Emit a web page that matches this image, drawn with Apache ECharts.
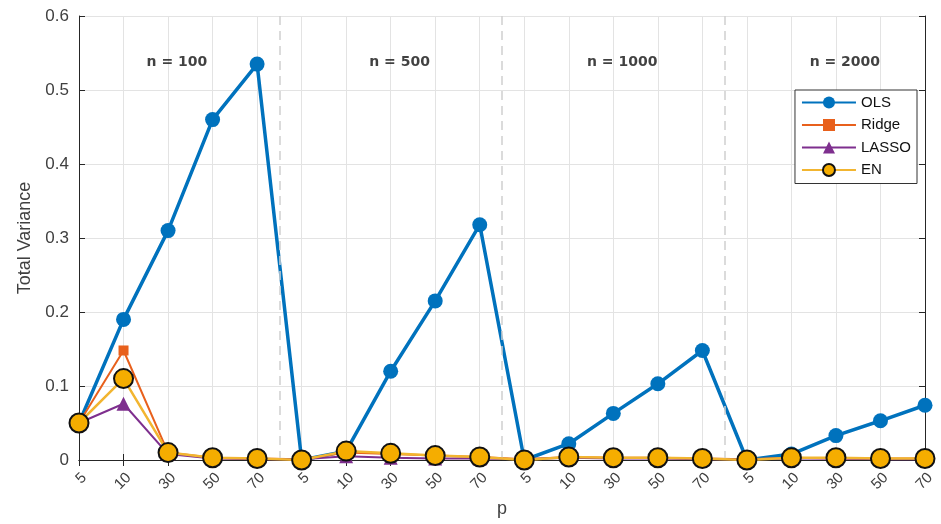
<!DOCTYPE html>
<html>
<head>
<meta charset="utf-8">
<script src="https://cdn.jsdelivr.net/npm/echarts@6/dist/echarts.min.js"></script>
<style>html,body{margin:0;padding:0;background:#fff;}#c{width:941px;height:524px;}</style>
</head>
<body>
<div id="c"></div>
<script>
var pLabels = ['5','10','30','50','70','5','10','30','50','70','5','10','30','50','70','5','10','30','50','70'];
var groupNames = ['n = 100','n = 500','n = 1000','n = 2000'];
var olsValues   = [0.050,0.190,0.310,0.460,0.535, 0.000,0.012,0.120,0.215,0.318, 0.000,0.022,0.063,0.103,0.148, 0.000,0.008,0.033,0.053,0.074];
var ridgeValues = [0.050,0.148,0.010,0.003,0.002, 0.001,0.010,0.008,0.006,0.004, 0.001,0.004,0.003,0.003,0.002, 0.001,0.003,0.002,0.002,0.002];
var lassoValues = [0.050,0.076,0.008,0.002,0.001, 0.001,0.005,0.003,0.002,0.002, 0.001,0.003,0.002,0.002,0.001, 0.001,0.002,0.002,0.001,0.001];
var enValues    = [0.050,0.110,0.010,0.003,0.002, 0.000,0.012,0.009,0.006,0.004, 0.000,0.004,0.003,0.003,0.002, 0.000,0.003,0.003,0.002,0.002];

var groupSize = 5;
var separators = [];
for (var g = 1; g < groupNames.length; g++) separators.push({xAxis: g * groupSize - 0.5});
var groupLabelData = groupNames.map(function(n, i){
  return {name: n, value: [i * groupSize + (groupSize - 1) / 2 + 0.2, 0.538]};
});

var chart = echarts.init(document.getElementById('c'));
var axisColor = '#262626';
var gridColor = '#e3e3e3';
var txt = '#404040';
chart.setOption({
  animation: false,
  backgroundColor: '#fff',
  grid: {left: 79, right: 16, top: 16, bottom: 64},
  legend: {
    orient: 'vertical', right: 24, top: 90,
    backgroundColor: '#fff', borderColor: '#333', borderWidth: 1,
    padding: [5, 6, 6, 6],
    itemWidth: 54, itemHeight: 15, itemGap: 7.5,
    textStyle: {fontSize: 15, color: '#111', fontFamily: 'Liberation Sans'},
    data: ['OLS','Ridge','LASSO','EN']
  },
  xAxis: [
    {
      type: 'category', data: pLabels, boundaryGap: false, position: 'bottom',
      name: 'p', nameLocation: 'middle', nameGap: 40,
      nameTextStyle: {fontSize: 18, color: txt, fontFamily: 'Liberation Sans'},
      axisLine: {lineStyle: {color: axisColor, width: 1}},
      axisTick: {inside: true, length: 6, lineStyle: {color: axisColor}},
      axisLabel: {rotate: 45, fontSize: 15, color: txt, margin: 10, fontFamily: 'Liberation Sans',
        align: 'right', verticalAlign: 'top'},
      splitLine: {show: true, lineStyle: {color: gridColor}}
    },
    {
      type: 'value', min: 0, max: pLabels.length - 1, interval: 1, position: 'top',
      axisLine: {show: true, lineStyle: {color: axisColor, width: 1}},
      axisTick: {show: true, inside: true, length: 6, lineStyle: {color: axisColor}},
      axisLabel: {show: false},
      splitLine: {show: false}
    }
  ],
  yAxis: [
    {
      type: 'value', min: 0, max: 0.6, interval: 0.1, position: 'left',
      name: 'Total Variance', nameLocation: 'middle', nameGap: 45,
      nameTextStyle: {fontSize: 18, color: txt, fontFamily: 'Liberation Sans'},
      axisLine: {show: true, lineStyle: {color: axisColor, width: 1}},
      axisTick: {show: true, inside: true, length: 6, lineStyle: {color: axisColor}},
      axisLabel: {fontSize: 17, color: txt, margin: 10, fontFamily: 'Liberation Sans',
        formatter: function(v){ return v === 0 ? '0' : v.toFixed(1); }},
      splitLine: {show: true, lineStyle: {color: gridColor}}
    },
    {
      type: 'value', min: 0, max: 0.6, interval: 0.1, position: 'right',
      axisLine: {show: true, lineStyle: {color: axisColor, width: 1}},
      axisTick: {show: true, inside: true, length: 6, lineStyle: {color: axisColor}},
      axisLabel: {show: false},
      splitLine: {show: false}
    }
  ],
  series: [
    {
      name: 'groups', type: 'scatter', xAxisIndex: 1, yAxisIndex: 0, data: groupLabelData,
      symbolSize: 0, silent: true, legendHoverLink: false, z: 1,
      label: {show: true, formatter: '{b}', fontSize: 14, fontWeight: 'bold', color: '#111',
        fontFamily: 'DejaVu Sans', position: 'inside'},
      markLine: {
        silent: true, symbol: 'none', label: {show: false},
        lineStyle: {type: [9, 6], color: '#cfcfcf', width: 1.5},
        data: separators
      }
    },
    {
      name: 'OLS', type: 'line', data: olsValues, symbol: 'circle', symbolSize: 15,
      lineStyle: {color: '#0072BD', width: 3.5}, itemStyle: {color: '#0072BD'}, z: 3
    },
    {
      name: 'Ridge', type: 'line', data: ridgeValues, symbol: 'rect', symbolSize: 10,
      lineStyle: {color: '#E8601C', width: 2}, itemStyle: {color: '#E8601C'}, z: 4
    },
    {
      name: 'LASSO', type: 'line', data: lassoValues, symbol: 'triangle', symbolSize: 14,
      lineStyle: {color: '#7E2F8E', width: 2}, itemStyle: {color: '#7E2F8E'}, z: 5
    },
    {
      name: 'EN', type: 'line', data: enValues, symbol: 'circle', symbolSize: 19,
      lineStyle: {color: '#F2B530', width: 2.5},
      itemStyle: {color: '#F5AD00', borderColor: '#111', borderWidth: 2}, z: 6
    }
  ]
});
</script>
</body>
</html>
